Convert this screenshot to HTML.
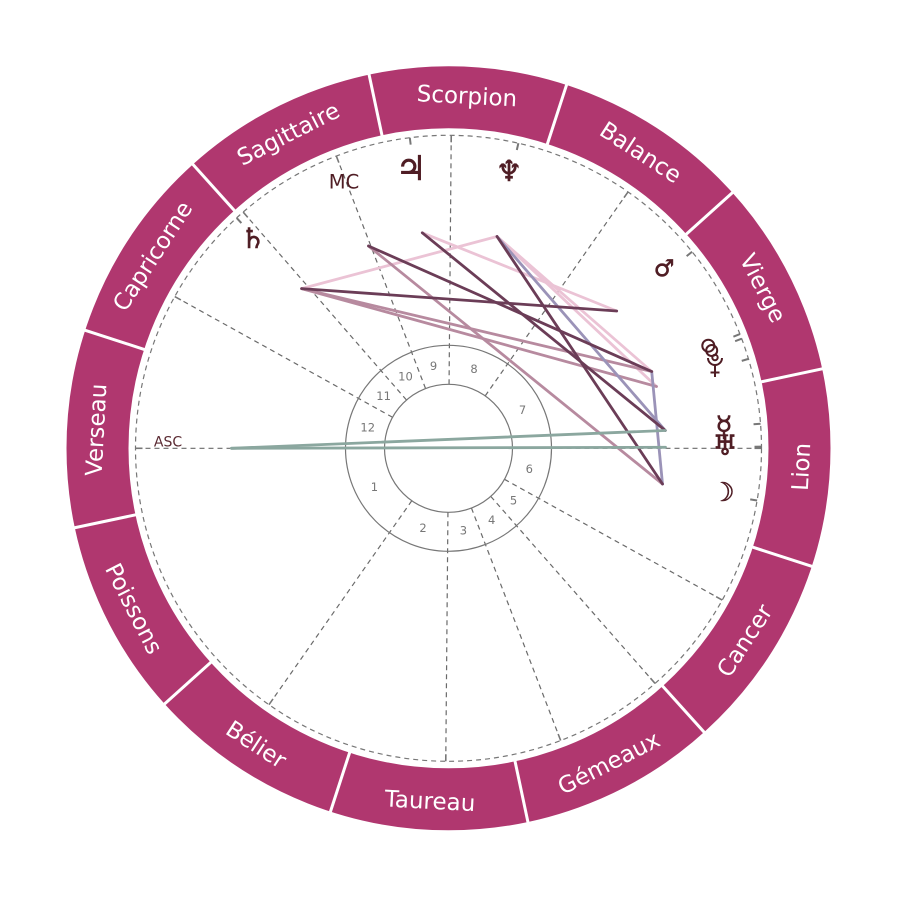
<!DOCTYPE html>
<html><head><meta charset="utf-8"><style>
html,body{margin:0;padding:0;background:#fff;}
svg{display:block}
</style></head><body>
<svg width="897" height="897" viewBox="0 0 897 897" xmlns="http://www.w3.org/2000/svg">
<rect width="897" height="897" fill="#fff"/>
<g transform="translate(448.5,448.3)">
  <!-- zodiac ring -->
  <circle r="351" fill="none" stroke="#b0376f" stroke-width="62"/>
  <g stroke="#fff" stroke-width="3">
    <line x1="318" x2="384" transform="rotate(-12)"/>
    <line x1="318" x2="384" transform="rotate(-42)"/>
    <line x1="318" x2="384" transform="rotate(-72)"/>
    <line x1="318" x2="384" transform="rotate(-102)"/>
    <line x1="318" x2="384" transform="rotate(-132)"/>
    <line x1="318" x2="384" transform="rotate(-162)"/>
    <line x1="318" x2="384" transform="rotate(-192)"/>
    <line x1="318" x2="384" transform="rotate(-222)"/>
    <line x1="318" x2="384" transform="rotate(-252)"/>
    <line x1="318" x2="384" transform="rotate(-282)"/>
    <line x1="318" x2="384" transform="rotate(-312)"/>
    <line x1="318" x2="384" transform="rotate(-342)"/>
  </g>
  <g font-family="'DejaVu Sans', 'Liberation Sans', sans-serif" font-size="23" fill="#fff" text-anchor="middle">
    <g transform="rotate(-87) translate(353,0) rotate(90)"><text y="8">Scorpion</text></g>
    <g transform="rotate(-117) translate(353,0) rotate(90)"><text y="8">Sagittaire</text></g>
    <g transform="rotate(-147) translate(353,0) rotate(90)"><text y="8">Capricorne</text></g>
    <g transform="rotate(-177) translate(353,0) rotate(90)"><text y="8">Verseau</text></g>
    <g transform="rotate(-207) translate(353,0) rotate(-90)"><text y="8">Poissons</text></g>
    <g transform="rotate(-237) translate(353,0) rotate(-90)"><text y="8">Bélier</text></g>
    <g transform="rotate(-267) translate(353,0) rotate(-90)"><text y="8">Taureau</text></g>
    <g transform="rotate(-297) translate(353,0) rotate(-90)"><text y="8">Gémeaux</text></g>
    <g transform="rotate(-327) translate(353,0) rotate(-90)"><text y="8">Cancer</text></g>
    <g transform="rotate(-357) translate(353,0) rotate(-90)"><text y="8">Lion</text></g>
    <g transform="rotate(-27) translate(353,0) rotate(90)"><text y="8">Vierge</text></g>
    <g transform="rotate(-57) translate(353,0) rotate(90)"><text y="8">Balance</text></g>
  </g>

  <!-- dashed circle -->
  <circle r="313" fill="none" stroke="#777" stroke-width="1.2" stroke-dasharray="5 4"/>

  <!-- house cusps -->
  <g stroke="#6a6a6a" stroke-width="1.2">
    <g stroke-dasharray="5 4">
      <line x1="64" x2="307" transform="rotate(-180)"/>
      <line x1="64" x2="307" transform="rotate(-235)"/>
      <line x1="64" x2="307" transform="rotate(-269.5)"/>
      <line x1="64" x2="307" transform="rotate(-291)"/>
      <line x1="64" x2="307" transform="rotate(-311.3)"/>
      <line x1="64" x2="307" transform="rotate(-331)"/>
      <line x1="64" x2="307" transform="rotate(0)"/>
      <line x1="64" x2="307" transform="rotate(-55)"/>
      <line x1="64" x2="307" transform="rotate(-89.5)"/>
      <line x1="64" x2="307" transform="rotate(-111)"/>
      <line x1="64" x2="307" transform="rotate(-131)"/>
      <line x1="64" x2="307" transform="rotate(-151)"/>
    </g>
    <g stroke-width="1.6" stroke="#777">
      <line x1="306" x2="313" transform="rotate(-180)"/>
      <line x1="306" x2="313" transform="rotate(-235)"/>
      <line x1="306" x2="313" transform="rotate(-269.5)"/>
      <line x1="306" x2="313" transform="rotate(-291)"/>
      <line x1="306" x2="313" transform="rotate(-311.3)"/>
      <line x1="306" x2="313" transform="rotate(-331)"/>
      <line x1="306" x2="313" transform="rotate(0)"/>
      <line x1="306" x2="313" transform="rotate(-55)"/>
      <line x1="306" x2="313" transform="rotate(-89.5)"/>
      <line x1="306" x2="313" transform="rotate(-111)"/>
      <line x1="306" x2="313" transform="rotate(-131)"/>
      <line x1="306" x2="313" transform="rotate(-151)"/>
    </g>
  </g>

  <!-- planet ticks -->
  <g stroke="#777" stroke-width="2">
    <line x1="306" x2="313" transform="rotate(-97.1)"/>
    <line x1="306" x2="313" transform="rotate(-77.1)"/>
    <line x1="306" x2="313" transform="rotate(-132.6)"/>
    <line x1="306" x2="313" transform="rotate(-38.9)"/>
    <line x1="306" x2="313" transform="rotate(-21.4)"/>
    <line x1="306" x2="313" transform="rotate(-20.5)"/>
    <line x1="306" x2="313" transform="rotate(-16.6)"/>
    <line x1="306" x2="313" transform="rotate(-4.5)"/>
    <line x1="306" x2="313" transform="rotate(-0.3)"/>
    <line x1="306" x2="313" transform="rotate(9.6)"/>
  </g>

  <!-- house circles -->
  <circle r="64" fill="none" stroke="#777" stroke-width="1.2"/>
  <circle r="103" fill="none" stroke="#777" stroke-width="1.2"/>
</g>

<!-- house numbers -->
<g font-family="'DejaVu Sans', 'Liberation Sans', sans-serif" font-size="11.5" fill="#777" text-anchor="middle">
  <text x="374.4" y="490.9">1</text>
  <text x="423.0" y="531.8">2</text>
  <text x="463.4" y="534.5">3</text>
  <text x="491.7" y="523.8">4</text>
  <text x="513.5" y="504.7">5</text>
  <text x="529.3" y="473.2">6</text>
  <text x="522.6" y="413.8">7</text>
  <text x="474.0" y="372.8">8</text>
  <text x="433.6" y="370.1">9</text>
  <text x="405.5" y="380.7">10</text>
  <text x="383.6" y="399.8">11</text>
  <text x="367.7" y="431.4">12</text>
</g>

<!-- aspect lines -->
<g stroke-width="2.8" stroke-linecap="round" fill="none">
  <line x1="301.6" y1="288.6" x2="497" y2="236.5" stroke="#ebc3d5"/>
  <line x1="422.3" y1="232.8" x2="616.7" y2="311" stroke="#ebc3d5"/>
  <line x1="497" y1="236.5" x2="651.7" y2="371.5" stroke="#ebc3d5"/>
  <line x1="497" y1="236.5" x2="656.5" y2="386.5" stroke="#ebc3d5"/>
  <line x1="301.6" y1="288.6" x2="651.7" y2="371.5" stroke="#b78a9f"/>
  <line x1="301.6" y1="288.6" x2="656.5" y2="386.5" stroke="#b78a9f"/>
  <line x1="368.5" y1="246" x2="662.5" y2="484" stroke="#b78a9f"/>
  <line x1="497" y1="236.5" x2="665.3" y2="430.5" stroke="#9b93b8"/>
  <line x1="651.7" y1="371.5" x2="662.5" y2="484" stroke="#9b93b8"/>
  <line x1="301.6" y1="288.6" x2="616.7" y2="311" stroke="#6b3d57"/>
  <line x1="368.5" y1="246" x2="651.7" y2="371.5" stroke="#6b3d57"/>
  <line x1="422.3" y1="232.8" x2="665.3" y2="430.5" stroke="#6b3d57"/>
  <line x1="497" y1="236.5" x2="662.5" y2="484" stroke="#6b3d57"/>
  <line x1="231.5" y1="448.3" x2="665.3" y2="430.5" stroke="#8ba79f"/>
  <line x1="231.5" y1="448.3" x2="665.5" y2="447.3" stroke="#8ba79f"/>
</g>

<!-- labels -->
<text x="168" y="446.5" font-family="'DejaVu Sans', 'Liberation Sans', sans-serif" font-size="14" fill="#5a2a32" text-anchor="middle">ASC</text>
<text x="344" y="188.5" font-family="'DejaVu Sans', 'Liberation Sans', sans-serif" font-size="19.5" fill="#4f1d24" text-anchor="middle">MC</text>

<!-- planet glyphs -->
<g font-family="'DejaVu Sans', sans-serif" fill="#4f1d24" stroke="#4f1d24" stroke-width="0.6" text-anchor="middle">
  <text x="411" y="180" font-size="34">♃</text>
  <text x="509" y="181" font-size="29">♆</text>
  <text x="253" y="248" font-size="28">♄</text>
  <text x="664" y="276" font-size="23">♂</text>
  <text x="724" y="436" font-size="28">☿</text>
  <text x="725" y="455" font-size="28">♅</text>
  <text x="723" y="501" font-size="26">☽</text>
</g>
<!-- cluster Sun / Venus / Pluto -->
<g stroke="#4f1d24" stroke-width="2" fill="none">
  <circle cx="708.3" cy="345.7" r="6"/>
  <circle cx="711.7" cy="350.5" r="5.5"/>
  <path d="M708 358 A7 7 0 0 0 722 358"/>
  <circle cx="715" cy="357.5" r="2.7"/>
  <line x1="715" y1="365" x2="715" y2="377"/>
  <line x1="710.5" y1="372.5" x2="719.5" y2="372.5"/>
</g>
</svg>
</body></html>
